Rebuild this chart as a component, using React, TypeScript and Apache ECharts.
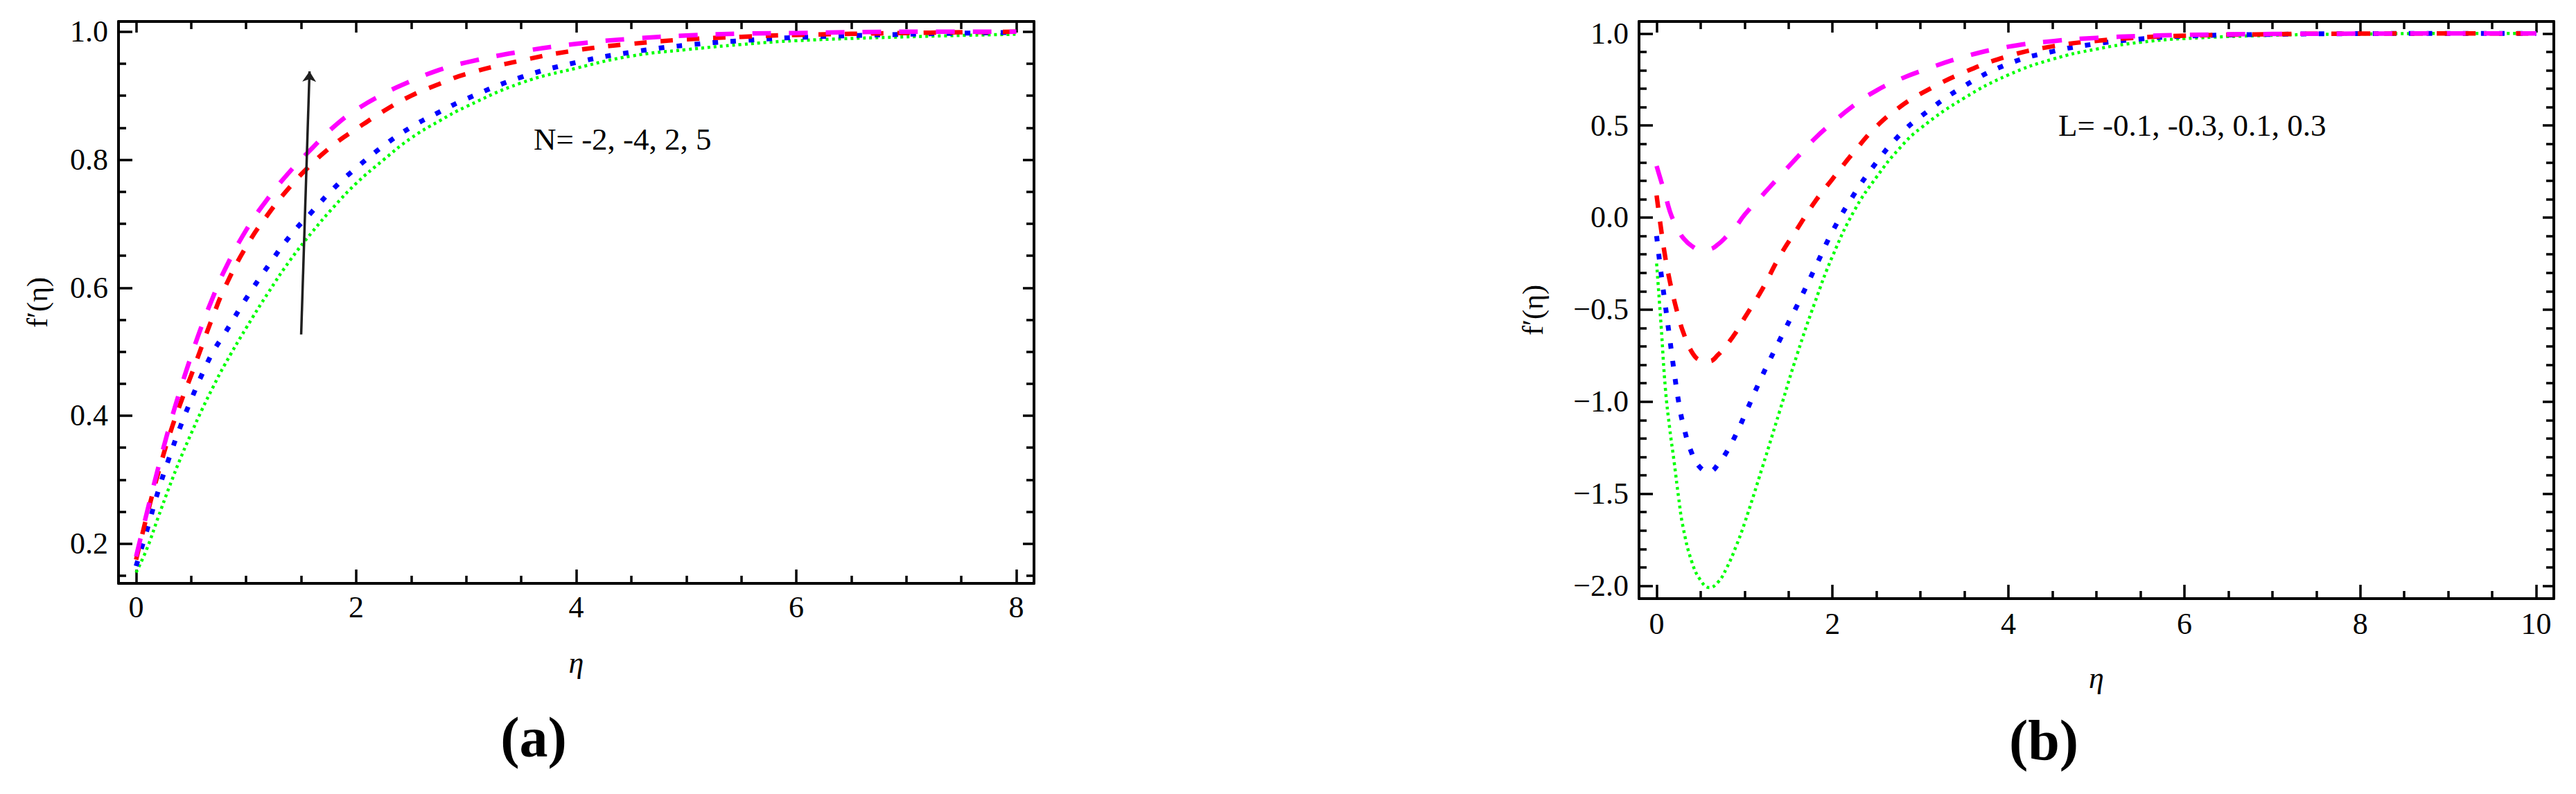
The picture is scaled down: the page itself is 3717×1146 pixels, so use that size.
import React, { useEffect, useRef } from "react";
import * as echarts from "echarts";

// ---------- Panel (a): f'(eta) for N = -2, -4, 2, 5 ----------
const etaA = [0, 0.1, 0.2, 0.3, 0.4, 0.5, 0.6, 0.7, 0.8, 1.0, 1.2, 1.4, 1.6, 1.8, 2.0, 2.25, 2.5, 2.75, 3.0, 3.5, 4.0, 4.5, 5, 5.5, 6, 7, 8];
const greenA = [0.155, 0.193, 0.241, 0.288, 0.332, 0.372, 0.41, 0.445, 0.478, 0.537, 0.592, 0.643, 0.687, 0.727, 0.763, 0.8, 0.834, 0.86, 0.883, 0.92, 0.943, 0.962, 0.972, 0.98, 0.986, 0.992, 0.996];
const blueA = [0.165, 0.222, 0.282, 0.334, 0.382, 0.425, 0.465, 0.5, 0.527, 0.583, 0.634, 0.681, 0.719, 0.756, 0.787, 0.822, 0.851, 0.874, 0.895, 0.929, 0.952, 0.968, 0.979, 0.986, 0.991, 0.996, 0.999];
const redA = [0.175, 0.245, 0.31, 0.368, 0.418, 0.463, 0.51, 0.556, 0.598, 0.664, 0.715, 0.758, 0.794, 0.824, 0.848, 0.876, 0.9, 0.918, 0.934, 0.955, 0.971, 0.981, 0.988, 0.992, 0.995, 0.998, 1.0];
const magentaA = [0.18, 0.25, 0.318, 0.382, 0.44, 0.493, 0.542, 0.586, 0.626, 0.69, 0.74, 0.782, 0.818, 0.852, 0.878, 0.903, 0.923, 0.94, 0.952, 0.969, 0.981, 0.989, 0.994, 0.997, 0.998, 1.0, 1.0];
const arrowA = [[1.5, 0.527], [1.576, 0.938]];
const noteA = "N= -2, -4, 2, 5";

// ---------- Panel (b): f'(eta) for L = -0.1, -0.3, 0.1, 0.3 ----------
const etaB = [0, 0.05, 0.1, 0.15, 0.2, 0.25, 0.3, 0.4, 0.5, 0.6, 0.7, 0.8, 0.9, 1.0, 1.2, 1.4, 1.6, 1.8, 2.0, 2.25, 2.5, 2.75, 3.0, 3.5, 4.0, 4.5, 5, 5.5, 6, 7, 8, 9, 10];
const greenB = [-0.25, -0.58, -0.93, -1.15, -1.33, -1.52, -1.68, -1.87, -1.97, -2.01, -1.98, -1.9, -1.79, -1.66, -1.36, -1.05, -0.74, -0.46, -0.21, 0.04, 0.22, 0.37, 0.485, 0.65, 0.775, 0.86, 0.915, 0.952, 0.972, 0.99, 0.997, 1.0, 1.0];
const blueB = [-0.1, -0.3, -0.48, -0.66, -0.84, -1.0, -1.12, -1.28, -1.36, -1.38, -1.34, -1.27, -1.18, -1.075, -0.86, -0.665, -0.475, -0.275, -0.075, 0.13, 0.3, 0.442, 0.548, 0.715, 0.835, 0.902, 0.944, 0.97, 0.985, 0.995, 0.999, 1.0, 1.0];
const redB = [0.12, -0.06, -0.22, -0.345, -0.45, -0.54, -0.62, -0.73, -0.775, -0.78, -0.745, -0.69, -0.625, -0.545, -0.39, -0.21, -0.06, 0.086, 0.21, 0.36, 0.495, 0.595, 0.672, 0.79, 0.877, 0.93, 0.96, 0.978, 0.988, 0.996, 0.999, 1.0, 1.0];
const magentaB = [0.28, 0.2, 0.12, 0.035, -0.025, -0.07, -0.11, -0.155, -0.175, -0.172, -0.145, -0.1, -0.05, 0.015, 0.12, 0.225, 0.328, 0.43, 0.515, 0.612, 0.69, 0.748, 0.795, 0.874, 0.928, 0.958, 0.976, 0.986, 0.992, 0.997, 0.999, 1.0, 1.0];
const noteB = "L= -0.1, -0.3, 0.1, 0.3";

const xTitle = "η";
const yTitle = "f′(η)";
const captions = ["(a)", "(b)"];

const FONT = '"Liberation Serif", "Times New Roman", Times, serif';

const styles = [
  { key: "green", color: "#00ff00", width: 4.5, dash: [4, 5] },
  { key: "blue", color: "#0000ff", width: 7, dash: [8, 18] },
  { key: "red", color: "#ff0000", width: 6.5, dash: [18, 20] },
  { key: "magenta", color: "#ff00ff", width: 6.5, dash: [27, 26] },
];

function pairs(xs: number[], ys: number[]) {
  return xs.map((x, i) => [x, ys[i]]);
}

function fmtY(v: number) {
  return v.toFixed(1).replace("-", "\u2212");
}

function makeX(gridIndex: number, min: number, max: number, position: "top" | "bottom", margin: number) {
  const bottom = position === "bottom";
  return {
    type: "value",
    gridIndex,
    min,
    max,
    splitNumber: Math.round((max - min) / 2),
    position,
    axisLine: { show: true, onZero: false, lineStyle: { color: "#000", width: 4 } },
    axisTick: { show: true, inside: true, length: bottom ? 20 : 16, lineStyle: { color: "#000", width: 3.5 } },
    minorTick: { show: true, splitNumber: 4, length: 11, lineStyle: { color: "#000", width: 3.5 } },
    splitLine: { show: false },
    minorSplitLine: { show: false },
    axisLabel: {
      show: bottom,
      showMinLabel: false,
      showMaxLabel: false,
      margin,
      color: "#000",
      fontSize: 44,
      fontFamily: FONT,
      formatter: (v: number) => String(Math.round(v)),
    },
    name: bottom ? xTitle : "",
    nameLocation: "middle",
    nameGap: 92,
    nameTextStyle: { fontSize: 44, fontFamily: FONT, fontStyle: "italic", color: "#000" },
  };
}

function makeY(gridIndex: number, min: number, max: number, split: number, minorSplit: number, position: "left" | "right", nameGap: number) {
  const left = position === "left";
  return {
    type: "value",
    gridIndex,
    min,
    max,
    splitNumber: split,
    position,
    axisLine: { show: true, onZero: false, lineStyle: { color: "#000", width: 4 } },
    axisTick: { show: true, inside: true, length: left ? 20 : 16, lineStyle: { color: "#000", width: 3.5 } },
    minorTick: { show: true, splitNumber: minorSplit, length: 11, lineStyle: { color: "#000", width: 3.5 } },
    splitLine: { show: false },
    minorSplitLine: { show: false },
    axisLabel: {
      show: left,
      showMinLabel: false,
      showMaxLabel: false,
      margin: 15,
      color: "#000",
      fontSize: 44,
      fontFamily: FONT,
      formatter: fmtY,
    },
    name: left ? yTitle : "",
    nameLocation: "middle",
    nameGap,
    nameTextStyle: { fontSize: 42, fontFamily: FONT, color: "#000" },
  };
}

function lineSeries(axisIndex: number, xs: number[], ys: number[], s: (typeof styles)[number], extra: any = {}) {
  return {
    type: "line",
    name: s.key,
    xAxisIndex: axisIndex,
    yAxisIndex: axisIndex,
    data: pairs(xs, ys),
    showSymbol: false,
    symbol: "none",
    smooth: 0.45,
    silent: true,
    lineStyle: { color: s.color, width: s.width, type: s.dash, cap: "butt" },
    ...extra,
  };
}

export default function App() {
  const ref = useRef<HTMLDivElement>(null);
  useEffect(() => {
    if (!ref.current) return;
    const chart = echarts.init(ref.current, undefined, { renderer: "svg" });
    const seriesA = [greenA, blueA, redA, magentaA];
    const seriesB = [greenB, blueB, redB, magentaB];
    const option: any = {
      animation: false,
      backgroundColor: "#ffffff",
      textStyle: { fontFamily: FONT },
      grid: [
        { left: 171, top: 31, width: 1321, height: 811, outerBoundsMode: "none" },
        { left: 2365, top: 31, width: 1320, height: 833, outerBoundsMode: "none" },
      ],
      xAxis: [
        makeX(0, -0.16, 8.16, "bottom", 12),
        makeX(0, -0.16, 8.16, "top", 12),
        makeX(1, -0.2, 10.2, "bottom", 14),
        makeX(1, -0.2, 10.2, "top", 14),
      ],
      yAxis: [
        makeY(0, 0.138, 1.016, 4, 4, "left", 96),
        makeY(0, 0.138, 1.016, 4, 4, "right", 0),
        makeY(1, -2.07, 1.065, 6, 5, "left", 132),
        makeY(1, -2.07, 1.065, 6, 5, "right", 0),
      ],
      series: [
        ...seriesA.map((ys, i) =>
          lineSeries(0, etaA, ys, styles[i],
            i === 3
              ? {
                  markLine: {
                    silent: true,
                    symbol: ["none", "arrow"],
                    symbolSize: 15,
                    label: { show: false },
                    lineStyle: { color: "#1f1f1f", width: 3.5, type: "solid" },
                    data: [[{ coord: arrowA[0] }, { coord: arrowA[1] }]],
                  },
                }
              : {})
        ),
        ...seriesB.map((ys, i) => lineSeries(2, etaB, ys, styles[i])),
      ],
      graphic: [
        { type: "text", x: 770, y: 201, style: { text: noteA, fontSize: 45, fontFamily: FONT, fill: "#000", align: "left", verticalAlign: "middle" } },
        { type: "text", x: 2970, y: 181, style: { text: noteB, fontSize: 45, fontFamily: FONT, fill: "#000", align: "left", verticalAlign: "middle" } },
        { type: "text", x: 770, y: 1064, style: { text: captions[0], fontSize: 82, fontWeight: "bold", fontFamily: FONT, fill: "#000", align: "center", verticalAlign: "middle" } },
        { type: "text", x: 2949, y: 1068, style: { text: captions[1], fontSize: 82, fontWeight: "bold", fontFamily: FONT, fill: "#000", align: "center", verticalAlign: "middle" } },
      ],
    };
    chart.setOption(option);
    return () => chart.dispose();
  }, []);
  return (
    <div
      ref={ref}
      style={{ position: "absolute", left: 0, top: 0, width: 3717, height: 1146, background: "#fff" }}
    />
  );
}
